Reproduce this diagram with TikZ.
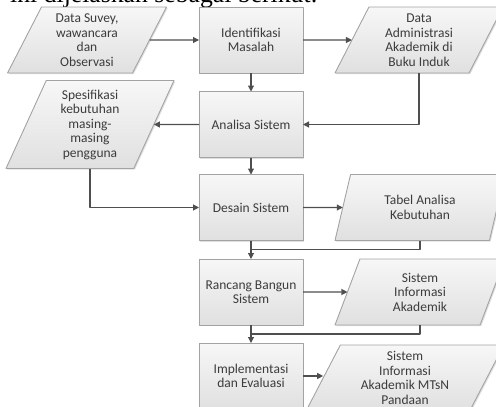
\documentclass[tikz,border=0pt]{standalone}
\usepackage{fontspec}
\setmainfont{Carlito}
\newfontfamily\headfont{Liberation Serif}
\usetikzlibrary{shapes.geometric,arrows.meta,shadows,calc}
\definecolor{boxtop}{HTML}{F7F7F7}
\definecolor{boxbot}{HTML}{E0E0E0}
\definecolor{boxline}{HTML}{A3A3A3}
\definecolor{flow}{HTML}{4F4F4F}
\definecolor{ink}{HTML}{3C3C3C}
\tikzset{
  base/.style={draw=boxline,line width=0.9pt,top color=boxtop,bottom color=boxbot,
    text=ink,font=\fontsize{13.5}{14.5}\selectfont,align=center,inner sep=0pt,outer sep=0pt,
    minimum height=66pt,drop shadow={opacity=0.25,shadow xshift=1.2pt,shadow yshift=-1.2pt}},
  proc/.style={base,rectangle,minimum width=104pt},
  data/.style={base,trapezium,trapezium left angle=57,trapezium right angle=123,
    trapezium stretches body=true},
  flowline/.style={draw=flow,line width=1.1pt},
  flowarrow/.style={flowline,-{Triangle[length=6pt,width=6pt]}}
}
\begin{document}
\begin{tikzpicture}[x=1pt,y=-1pt,line join=round]
    \useasboundingbox (0,0) rectangle (496,407);

    \node[anchor=base west,inner sep=0pt,font=\headfont\fontsize{25.7}{30}\selectfont] (head) at (10,2.5) {ini dijelaskan sebagai berikut:};

    \node[data,minimum width=159pt] (survey) at (87,40) {Data Suvey,\\wawancara\\dan\\Observasi};
    \node[proc] (idm) at (251,40) {Identifikasi\\Masalah};
    \node[data,minimum width=168pt] (buku) at (419,40) {Data\\Administrasi\\Akademik di\\Buku Induk};
    \node[proc] (ana) at (251,124.5) {Analisa Sistem};
    \node[data,minimum width=168pt,minimum height=88pt,trapezium left angle=60,trapezium right angle=120] (spek) at (90,124.5) {Spesifikasi\\kebutuhan\\masing-\\masing\\pengguna};
    \node[proc] (des) at (251,207.5) {Desain Sistem};
    \node[data,minimum width=170pt] (tabel) at (420,207.5) {Tabel Analisa\\Kebutuhan};
    \node[proc] (ran) at (251,292) {Rancang Bangun\\Sistem};
    \node[data,minimum width=170pt] (sia) at (420,292) {Sistem\\Informasi\\Akademik};
    \node[proc] (imp) at (251,376) {Implementasi\\dan Evaluasi};
    \node[data,minimum width=198pt] (siam) at (405,378) {Sistem\\Informasi\\Akademik MTsN\\Pandaan};

    \coordinate (m1) at ($(des.south)!.5!(ran.north)$);
    \coordinate (m2) at ($(ran.south)!.5!(imp.north)$);

    \draw[flowarrow] (survey.east) -- (idm.west);
    \draw[flowarrow] (idm.east) -- (buku.west);
    \draw[flowarrow] (idm.south) -- (ana.north);
    \draw[flowarrow] (buku.south) |- (ana.east);
    \draw[flowarrow] (ana.west) -- (spek.east);
    \draw[flowarrow] (ana.south) -- (des.north);
    \draw[flowarrow] (spek.south) |- (des.west);
    \draw[flowarrow] (des.east) -- (tabel.west);
    \draw[flowarrow] (des.south) -- (ran.north);
    \draw[flowline] (tabel.south) |- (m1);
    \draw[flowarrow] (ran.east) -- (sia.west);
    \draw[flowarrow] (ran.south) -- (imp.north);
    \draw[flowline] (sia.south) |- (m2);
    \draw[flowarrow] (imp.east) -- (imp.east -| siam.west);
\end{tikzpicture}
\end{document}
